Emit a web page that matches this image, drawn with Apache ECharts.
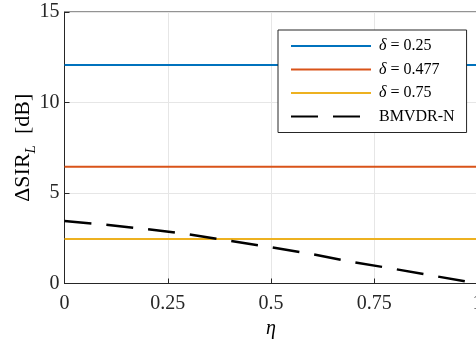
<!DOCTYPE html>
<html>
<head>
<meta charset="utf-8">
<script src="https://cdn.jsdelivr.net/npm/echarts@6/dist/echarts.min.js"></script>
<style>
  html, body { margin: 0; padding: 0; background: #fff; }
  #chart { width: 476px; height: 339px; }
</style>
</head>
<body>
<div id="chart"></div>
<script>
// Axis ticks
const etaTicks = [0, 0.25, 0.5, 0.75, 1];
const sirTicks = [0, 5, 10, 15];

// Constant SIR improvement for each delta (independent of eta)
const deltaNames = ['δ = 0.25', 'δ = 0.477', 'δ = 0.75'];
const deltaSIR = [12.07, 6.45, 2.46];
const deltaColors = ['#0072BD', '#D95319', '#EDB120'];

// BMVDR-N reference curve
const bmvdrName = 'BMVDR-N';
const bmvdrEta = [0, 0.1, 0.2, 0.3, 0.4, 0.5, 0.6, 0.7, 0.8, 0.9, 1];
const bmvdrSIR = [3.45, 3.25, 3.0, 2.72, 2.36, 2.0, 1.62, 1.18, 0.80, 0.40, 0];

const FONT = "'Liberation Serif', 'Times New Roman', serif";
const AXIS_COLOR = '#262626';

const chart = echarts.init(document.getElementById('chart'), null, { renderer: 'canvas' });

const series = deltaNames.map((name, i) => ({
  name: name,
  type: 'line',
  symbol: 'none',
  silent: true,
  data: [[etaTicks[0], deltaSIR[i]], [etaTicks[etaTicks.length - 1], deltaSIR[i]]],
  lineStyle: { color: deltaColors[i], width: 2 },
  itemStyle: { color: deltaColors[i] }
}));
series.push({
  name: bmvdrName,
  type: 'line',
  symbol: 'none',
  silent: true,
  data: bmvdrEta.map((x, i) => [x, bmvdrSIR[i]]),
  lineStyle: { color: '#000', width: 2.5, type: [27, 15] },
  itemStyle: { color: '#000' }
});

chart.setOption({
  animation: false,
  backgroundColor: '#fff',
  textStyle: { fontFamily: FONT },
  grid: {
    left: 64.5, top: 12, width: 413, height: 271.5,
    outerBoundsMode: 'none', containLabel: false,
    show: true, borderColor: AXIS_COLOR, borderWidth: 1, backgroundColor: 'transparent'
  },
  legend: {
    orient: 'vertical',
    left: 278, top: 30,
    padding: [8, 12, 8, 12],
    itemWidth: 80, itemHeight: 16, itemGap: 7.5,
    backgroundColor: '#fff',
    borderColor: AXIS_COLOR, borderWidth: 1,
    itemStyle: { opacity: 0 },
    data: deltaNames.concat([bmvdrName]),
    formatter: name => name.replace('δ', '{i|δ}'),
    textStyle: {
      fontFamily: FONT, fontSize: 16, color: '#000', lineHeight: 16,
      padding: [0, 0, 0, 3],
      rich: { i: { fontFamily: FONT, fontSize: 16, fontStyle: 'italic', color: '#000' } }
    }
  },
  xAxis: {
    type: 'value',
    min: etaTicks[0], max: etaTicks[etaTicks.length - 1], interval: 0.25,
    name: 'η',
    nameLocation: 'middle', nameGap: 35, nameMoveOverlap: false,
    nameTextStyle: { fontFamily: FONT, fontSize: 20, fontStyle: 'italic', color: '#000' },
    axisLine: { show: true, lineStyle: { color: AXIS_COLOR, width: 1 } },
    axisTick: { show: true, inside: true, length: 5, lineStyle: { color: AXIS_COLOR } },
    splitLine: { show: true, lineStyle: { color: '#e6e6e6', width: 1 } },
    axisLabel: {
      fontFamily: FONT, fontSize: 20, color: '#262626', margin: 10,
      formatter: v => String(v)
    }
  },
  yAxis: {
    type: 'value',
    min: sirTicks[0], max: sirTicks[sirTicks.length - 1], interval: 5,
    name: '{n|ΔSIR}{s|L}{n|  [dB]}',
    nameLocation: 'middle', nameGap: 30, nameRotate: 90, nameMoveOverlap: false,
    nameTextStyle: {
      fontFamily: FONT, color: '#000',
      rich: {
        n: { fontFamily: FONT, fontSize: 22, color: '#000', lineHeight: 26, verticalAlign: 'bottom' },
        s: { fontFamily: FONT, fontSize: 15, fontStyle: 'italic', color: '#000', lineHeight: 26, verticalAlign: 'bottom', padding: [0, 0, -4, 0] }
      }
    },
    axisLine: { show: true, lineStyle: { color: AXIS_COLOR, width: 1 } },
    axisTick: { show: true, inside: true, length: 5, lineStyle: { color: AXIS_COLOR } },
    splitLine: { show: true, lineStyle: { color: '#e6e6e6', width: 1 } },
    axisLabel: { fontFamily: FONT, fontSize: 20, color: '#262626', margin: 5 }
  },
  series: series
});
</script>
</body>
</html>
